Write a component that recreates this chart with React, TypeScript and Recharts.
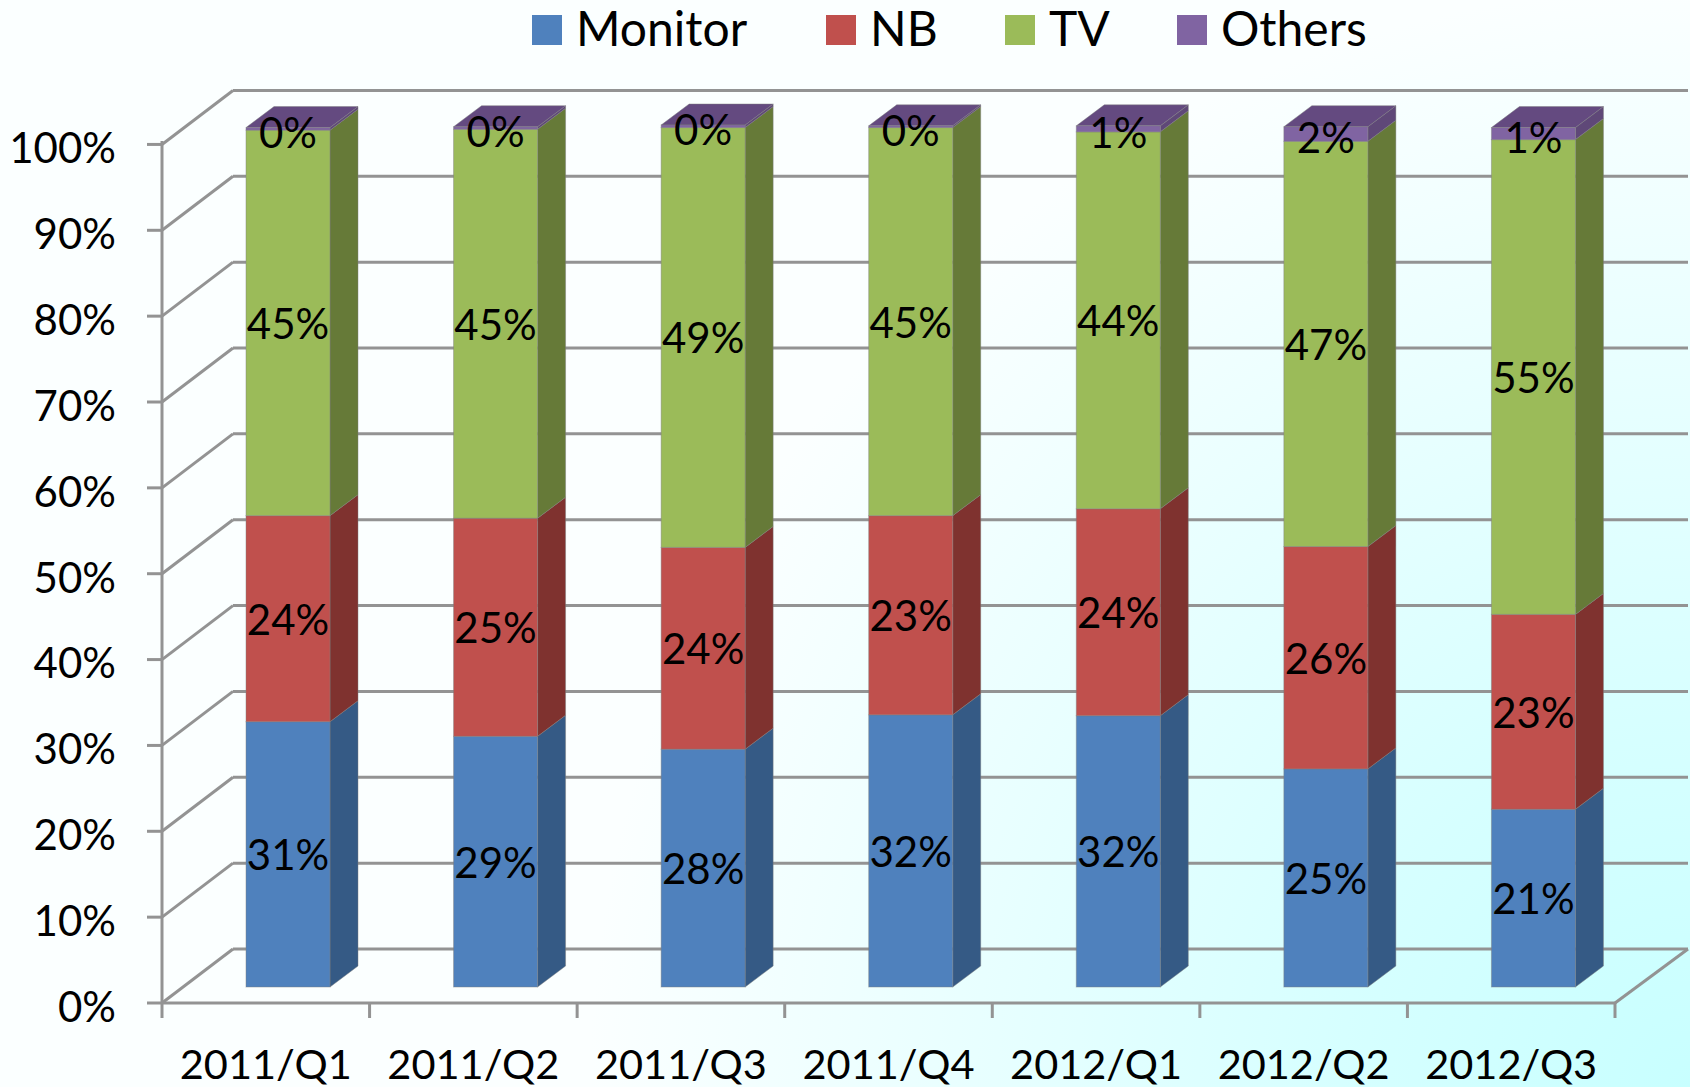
import { BarChart, Bar, XAxis, YAxis, CartesianGrid, Legend, LabelList } from 'recharts'

const categories = ['2011/Q1', '2011/Q2', '2011/Q3', '2011/Q4', '2012/Q1', '2012/Q2', '2012/Q3']
const monitor = [30.9, 29.2, 27.7, 31.7, 31.6, 25.4, 20.7]
const nb = [24.0, 25.4, 23.5, 23.2, 24.1, 25.9, 22.7]
const tv = [44.9, 45.3, 48.9, 45.2, 43.9, 47.2, 55.3]
const others = [0.3, 0.3, 0.3, 0.2, 0.7, 1.7, 1.4]
const yTicks = [0, 10, 20, 30, 40, 50, 60, 70, 80, 90, 100]

const chartData = categories.map((name, i) => ({
  name,
  Monitor: monitor[i],
  NB: nb[i],
  TV: tv[i],
  Others: others[i],
}))

const W = 1690
const H = 1087
const font = 'Lato'
const gridColor = '#939393'

// fake 3D offsets, all in pixels
const depthX = 28
const depthY = 21
const barShiftX = 22
const barShiftY = -16
const wallX = 71
const wallY = -54

const plotLeft = 162
const plotRight = 1615
const plotBottom = 1003
const bandWidth = (plotRight - plotLeft) / categories.length

// left edge of each legend swatch
const legendLefts = [532, 826, 1005, 1177]

const sideColors: { [key: string]: string } = {
  Monitor: '#355a85',
  NB: '#7f322f',
  TV: '#667a38',
  Others: '#5f4878',
}

function Bar3D(props: any) {
  const { x, y, width, height, fill, dataKey } = props
  const l = x + barShiftX
  const r = l + width
  const t = y + barShiftY
  const b = t + height
  const edge = 'rgba(125,125,125,0.45)'
  return (
    <g>
      <polygon
        points={`${r},${t} ${r + depthX},${t - depthY} ${r + depthX},${b - depthY} ${r},${b}`}
        fill={sideColors[dataKey]}
        stroke={edge}
      />
      {dataKey === 'Others' && (
        <polygon
          points={`${l},${t} ${l + depthX},${t - depthY} ${r + depthX},${t - depthY} ${r},${t}`}
          fill="#644a80"
          stroke={edge}
        />
      )}
      <rect x={l} y={t} width={width} height={height} fill={fill} stroke={edge} />
    </g>
  )
}

function SegmentLabel(props: any) {
  const { x, y, width, height, value, top } = props
  return (
    <text
      x={x + barShiftX + width / 2}
      y={y + barShiftY + height / 2 + (top ? 3 : 0)}
      textAnchor="middle"
      dominantBaseline="central"
      fontFamily={font}
      fontSize={42}
      fill="#000"
    >
      {Math.round(value)}%
    </text>
  )
}

function WallLine(props: any) {
  const { y1, x1, x2 } = props
  const lineProps = { stroke: gridColor, strokeWidth: 3, fill: 'none' }
  return (
    <g>
      <line x1={x1} y1={y1} x2={x1 + wallX} y2={y1 + wallY} {...lineProps} />
      <line x1={x1 + wallX} y1={y1 + wallY} x2={x2 + wallX + 2} y2={y1 + wallY} {...lineProps} />
      {y1 > plotBottom - 5 && (
        <line x1={x2} y1={y1} x2={x2 + wallX + 2} y2={y1 + wallY} {...lineProps} />
      )}
    </g>
  )
}

function CategoryTick(props: any) {
  const { x, y, payload, index } = props
  const left = x - bandWidth / 2
  const right = x + bandWidth / 2
  return (
    <g>
      <line x1={left} y1={plotBottom} x2={left} y2={plotBottom + 15} stroke={gridColor} strokeWidth={3} />
      {index === categories.length - 1 && (
        <line x1={right} y1={plotBottom} x2={right} y2={plotBottom + 15} stroke={gridColor} strokeWidth={3} />
      )}
      <text x={x} y={y + 68} textAnchor="middle" fontFamily={font} fontSize={41.5} fill="#000">
        {payload.value}
      </text>
    </g>
  )
}

function TopLegend(props: any) {
  const { payload } = props
  return (
    <div style={{ position: 'relative', height: 141 }}>
      {payload.map((entry: any, i: number) => (
        <div
          key={entry.value}
          style={{ position: 'absolute', left: legendLefts[i], top: 0, display: 'flex', alignItems: 'flex-start', whiteSpace: 'nowrap' }}
        >
          <span style={{ width: 30, height: 30, marginTop: 15, background: entry.color, marginRight: 14 }} />
          <span style={{ fontFamily: font, fontSize: 48, color: '#000', lineHeight: '56px' }}>{entry.value}</span>
        </div>
      ))}
    </div>
  )
}

export default function App() {
  return (
    <div
      style={{
        position: 'absolute',
        left: 0,
        top: 0,
        width: W,
        height: H,
        overflow: 'hidden',
        background: 'radial-gradient(circle at 100% 100%, #c8ffff 0, #d6ffff 350px, #fbffff 1100px)',
      }}
    >
      <BarChart
        width={W}
        height={H}
        data={chartData}
        barSize={84}
        margin={{ top: 0, right: W - plotRight, left: 0, bottom: 0 }}
      >
        <Legend verticalAlign="top" itemSorter={null} content={<TopLegend />} wrapperStyle={{ left: 0, top: 0, width: W }} />
        <CartesianGrid vertical={false} syncWithTicks horizontal={(p: any) => <WallLine key={p.key} {...p} />} />
        <XAxis
          dataKey="name"
          height={H - plotBottom}
          interval={0}
          axisLine={{ stroke: gridColor, strokeWidth: 3 }}
          tickLine={false}
          tick={<CategoryTick />}
        />
        <YAxis
          width={plotLeft}
          domain={[0, 100]}
          ticks={yTicks}
          interval={0}
          tickFormatter={(v: number) => `${v}%`}
          axisLine={{ stroke: gridColor, strokeWidth: 3 }}
          tickLine={{ stroke: gridColor, strokeWidth: 3 }}
          tickSize={15}
          tickMargin={31}
          tick={{ fontFamily: font, fontSize: 42, fill: '#000', dy: 4 }}
        />
        <Bar dataKey="Monitor" stackId="a" fill="#4f81bd" shape={<Bar3D dataKey="Monitor" />} isAnimationActive={false}>
          <LabelList dataKey="Monitor" content={<SegmentLabel />} />
        </Bar>
        <Bar dataKey="NB" stackId="a" fill="#c0504d" shape={<Bar3D dataKey="NB" />} isAnimationActive={false}>
          <LabelList dataKey="NB" content={<SegmentLabel />} />
        </Bar>
        <Bar dataKey="TV" stackId="a" fill="#9bbb59" shape={<Bar3D dataKey="TV" />} isAnimationActive={false}>
          <LabelList dataKey="TV" content={<SegmentLabel />} />
        </Bar>
        <Bar dataKey="Others" stackId="a" fill="#8064a2" shape={<Bar3D dataKey="Others" />} isAnimationActive={false}>
          <LabelList dataKey="Others" content={<SegmentLabel top />} />
        </Bar>
      </BarChart>
    </div>
  )
}
